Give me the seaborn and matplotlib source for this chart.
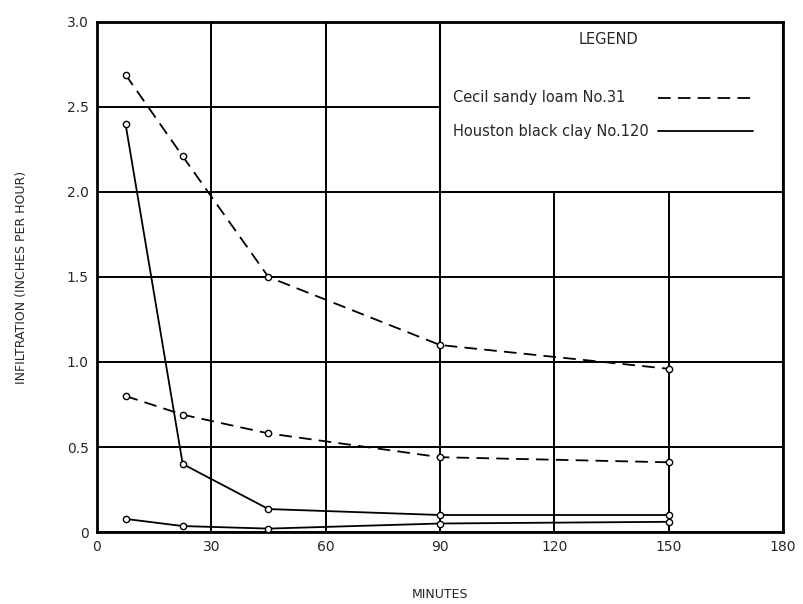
import pandas as pd
import seaborn as sns
import matplotlib.pyplot as plt
from matplotlib.lines import Line2D
from matplotlib.patches import Rectangle

# Infiltration data
minutes = [7.5, 22.5, 45, 90, 150]
cecil_upper = [2.69, 2.21, 1.50, 1.10, 0.96]
cecil_lower = [0.80, 0.69, 0.58, 0.44, 0.41]
houston_upper = [2.40, 0.40, 0.135, 0.10, 0.10]
houston_lower = [0.077, 0.035, 0.02, 0.05, 0.06]

x_ticks = [0, 30, 60, 90, 120, 150, 180]
y_ticks = [0, 0.5, 1.0, 1.5, 2.0, 2.5, 3.0]
y_tick_labels = ["0", "0.5", "1.0", "1.5", "2.0", "2.5", "3.0"]

legend_names = ["Cecil sandy loam No.31", "Houston black clay No.120"]
dash = (0, (7, 4))

sns.set_style("white")
plt.rcParams["font.family"] = ["DejaVu Sans"]

fig = plt.figure(figsize=(8.04, 6.04), dpi=100)
ax = fig.add_axes([0.1206, 0.1192, 0.8532, 0.8444])

curves = [
    (cecil_upper, dash),
    (cecil_lower, dash),
    (houston_upper, "-"),
    (houston_lower, "-"),
]

for values, ls in curves:
    df = pd.DataFrame({"Minutes": minutes, "Infiltration": values})
    sns.lineplot(
        data=df, x="Minutes", y="Infiltration", ax=ax, color="black",
        linestyle=ls, linewidth=1.3, marker="o", markersize=4.5,
        markerfacecolor="white", markeredgecolor="black", markeredgewidth=1.0,
        zorder=3,
    )

ax.set_xlim(0, 180)
ax.set_ylim(0, 3.0)
ax.set_xticks(x_ticks)
ax.set_yticks(y_ticks)
ax.set_yticklabels(y_tick_labels)
ax.tick_params(axis="both", length=0, labelsize=10, pad=6)
ax.grid(True, color="black", linewidth=1.4, zorder=1)
ax.set_axisbelow(True)
for s in ax.spines.values():
    s.set_color("black")
    s.set_linewidth(2)

ax.set_xlabel("MINUTES", fontsize=9, labelpad=24)
ax.set_ylabel("INFILTRATION (INCHES PER HOUR)", fontsize=9, labelpad=28)

# white legend box covering the upper right grid cells
box = Rectangle((0.5, 2 / 3), 0.5, 1 / 3, transform=ax.transAxes,
                facecolor="white", edgecolor="black", linewidth=1.5, zorder=2)
ax.add_patch(box)
ax.text(0.745, 0.965, "LEGEND", transform=ax.transAxes, ha="center",
        va="center", fontsize=10.5, zorder=4)

for i, (name, ls) in enumerate(zip(legend_names, [dash, "-"])):
    yy = 0.851 - i * 0.065
    ax.text(0.519, yy, name, transform=ax.transAxes, ha="left", va="center",
            fontsize=10.5, zorder=4)
    ax.add_line(Line2D([0.818, 0.956], [yy, yy], transform=ax.transAxes,
                       color="black", linestyle=ls, linewidth=1.3, zorder=4))

fig.savefig("out.png", dpi=100)
